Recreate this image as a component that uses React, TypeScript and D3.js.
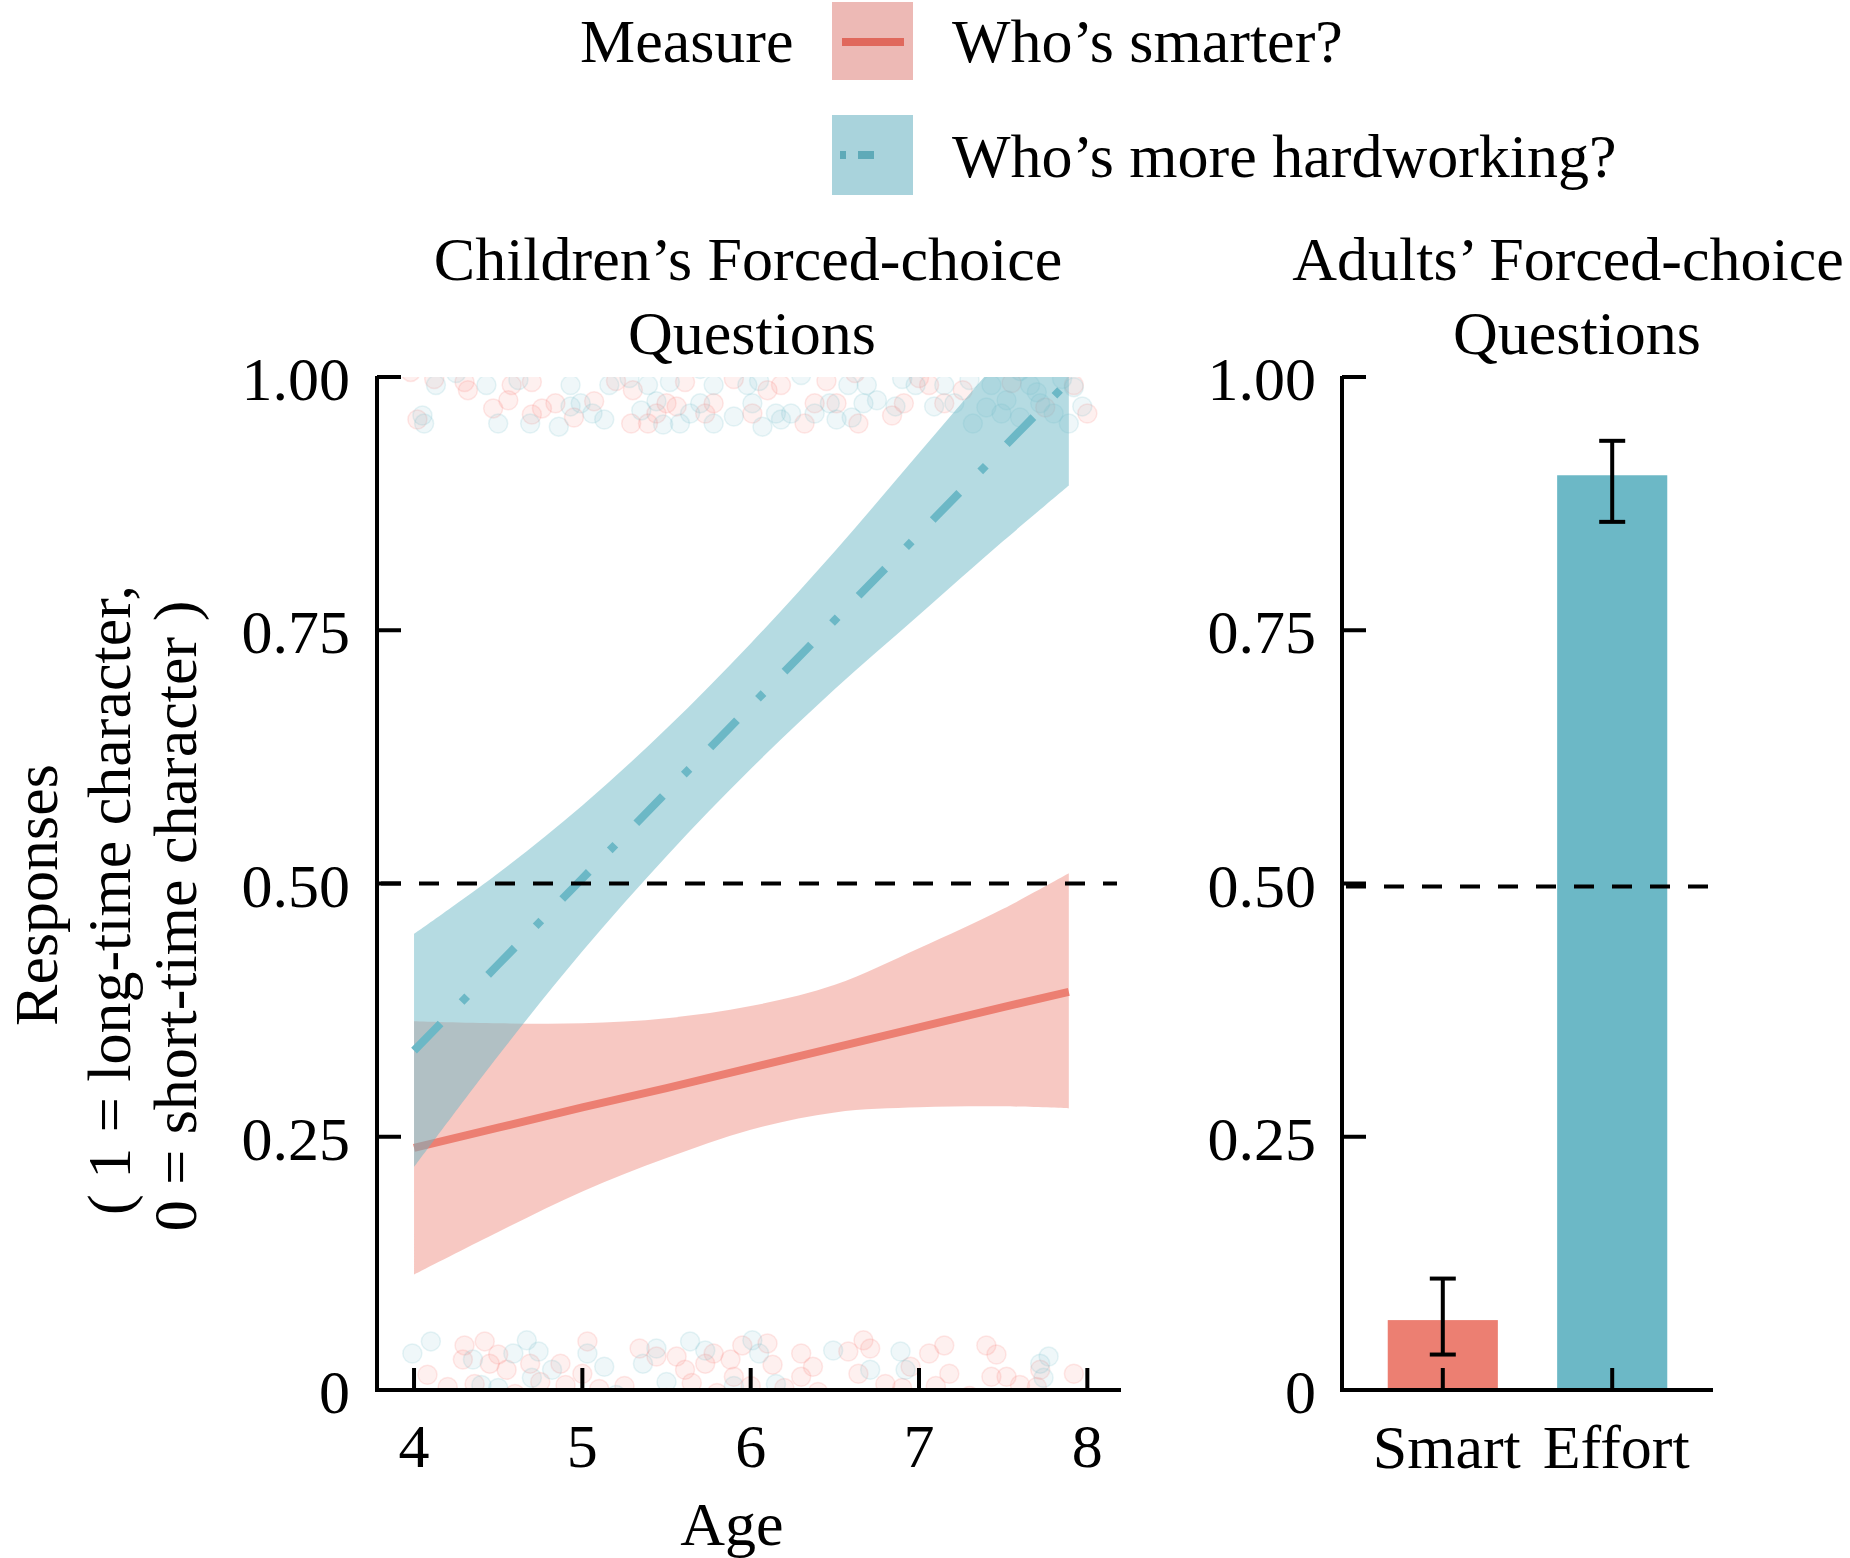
import * as d3 from 'd3'

// ---- data ----
const fitAges = [4, 4.5, 5, 5.5, 6, 6.5, 7, 7.5, 7.89]
const smartFit = [0.239, 0.259, 0.279, 0.298, 0.318, 0.338, 0.358, 0.378, 0.393]
const smartLow = [0.114, 0.156, 0.196, 0.229, 0.257, 0.274, 0.279, 0.28, 0.278]
const smartHigh = [0.364, 0.362, 0.362, 0.367, 0.379, 0.4, 0.436, 0.475, 0.51]
const effortFit = [0.335, 0.42, 0.505, 0.59, 0.675, 0.76, 0.845, 0.93, 0.996]
const effortLow = [0.22, 0.33, 0.433, 0.527, 0.613, 0.692, 0.765, 0.838, 0.893]
const effortHigh = [0.45, 0.51, 0.577, 0.653, 0.737, 0.828, 0.925, 1.022, 1.099]

// jittered raw responses [age, response]
const smartTop: [number, number][] = [
  [4.02, 0.958], [4.32, 0.987], [4.47, 0.969], [4.56, 0.977], [4.7, 0.963], [4.76, 0.969],
  [4.84, 0.974], [5.07, 0.976], [5.29, 0.954], [5.3, 0.987], [5.39, 0.954], [5.44, 0.964],
  [5.5, 0.974], [5.56, 0.971], [5.73, 0.964], [5.78, 0.974], [6.01, 0.964], [6.1, 0.987],
  [6.18, 0.992], [6.32, 0.954], [6.38, 0.974], [6.51, 0.974], [6.64, 0.954], [6.84, 0.962],
  [6.91, 0.974], [7.06, 0.992], [7.15, 0.974], [7.26, 0.987], [7.92, 0.992], [8.0, 0.964],
  [4.3, 0.995], [5.61, 0.995], [4.7, 0.995], [3.98, 1.005], [5.05, 1.01], [6.62, 1.004],
  [4.12, 0.998], [4.58, 0.992], [5.2, 0.996], [5.9, 0.998], [6.45, 0.996], [7.0, 0.999],
  [7.55, 0.994], [7.75, 0.97], [4.95, 0.96]
]
const effortTop: [number, number][] = [
  [4.05, 0.962], [4.06, 0.954], [4.13, 0.992], [4.43, 0.992], [4.5, 0.954], [4.69, 0.954],
  [4.86, 0.951], [4.93, 0.971], [4.99, 0.974], [5.06, 0.964], [5.13, 0.958], [5.16, 0.992],
  [5.39, 0.992], [5.44, 0.976], [5.48, 0.953], [5.58, 0.954], [5.64, 0.964], [5.7, 0.974],
  [5.78, 0.954], [5.9, 0.961], [5.98, 0.992], [6.01, 0.974], [6.07, 0.951], [6.15, 0.964],
  [6.18, 0.958], [6.24, 0.964], [6.38, 0.964], [6.47, 0.974], [6.51, 0.958], [6.58, 0.992],
  [6.67, 0.974], [6.69, 0.992], [6.75, 0.977], [6.86, 0.971], [6.98, 0.992], [7.09, 0.971],
  [7.21, 0.974], [7.32, 0.954], [7.43, 0.992], [7.52, 0.977], [7.66, 0.992], [7.72, 0.974],
  [7.8, 0.964], [7.89, 0.954], [7.97, 0.971], [7.49, 0.964], [7.15, 0.992], [4.93, 0.992],
  [5.78, 0.992], [4.25, 1.004], [5.7, 1.008], [6.3, 1.002], [7.6, 1.006], [7.85, 0.998],
  [4.62, 0.997], [5.28, 0.999], [5.52, 0.995], [6.05, 0.996], [6.9, 0.998], [7.3, 0.997],
  [7.7, 0.985], [7.92, 0.99], [7.6, 0.96], [7.4, 0.97], [6.6, 0.96], [5.35, 0.967]
]
const smartBottom: [number, number][] = [
  [4.08, 0.015], [4.3, 0.044], [4.42, 0.048], [4.29, 0.03], [4.45, 0.026], [4.55, 0.02],
  [4.69, 0.026], [4.87, 0.026], [5.03, 0.048], [5.0, 0.016], [5.34, 0.041], [5.44, 0.033],
  [5.56, 0.033], [5.61, 0.02], [5.73, 0.026], [5.78, 0.036], [5.95, 0.044], [6.1, 0.046],
  [6.13, 0.025], [6.3, 0.036], [6.37, 0.023], [6.58, 0.038], [6.64, 0.016], [6.67, 0.049],
  [6.71, 0.041], [6.95, 0.023], [7.06, 0.036], [7.15, 0.044], [7.18, 0.016], [7.4, 0.044],
  [7.46, 0.035], [7.52, 0.013], [7.72, 0.02], [7.92, 0.016], [7.43, 0.013], [6.3, 0.013],
  [5.9, 0.013], [4.2, 0.003], [4.6, -0.004], [5.1, 0.001], [5.5, -0.008], [6.0, 0.004],
  [6.4, -0.002], [6.9, 0.002], [7.3, -0.006], [7.7, 0.003], [4.9, 0.005], [5.8, -0.003],
  [4.36, 0.006], [4.75, 0.008], [5.25, 0.004], [5.65, 0.007], [6.2, 0.002], [6.8, 0.006],
  [7.1, 0.004], [7.6, 0.005], [4.5, 0.035], [5.88, 0.03]
]
const effortBottom: [number, number][] = [
  [3.99, 0.036], [4.1, 0.048], [4.35, 0.03], [4.59, 0.036], [4.67, 0.049], [4.74, 0.038],
  [4.82, 0.02], [5.03, 0.036], [5.13, 0.023], [5.36, 0.026], [5.44, 0.041], [5.64, 0.048],
  [5.73, 0.039], [6.01, 0.049], [6.05, 0.036], [6.49, 0.039], [6.71, 0.02], [6.89, 0.038],
  [6.92, 0.02], [7.72, 0.026], [7.77, 0.033], [4.5, 0.002], [5.2, -0.005], [5.9, 0.004],
  [4.7, 0.012], [4.4, 0.005], [5.5, 0.008], [6.15, 0.006], [7.74, 0.012]
]

const ageTicks = [4, 5, 6, 7, 8]
const yTicks = [0, 0.25, 0.5, 0.75, 1]
const yTickLabels = ['0', '0.25', '0.50', '0.75', '1.00']

const barCats = ['Smart', 'Effort']
const barMeans = [0.069, 0.903]
const barLow = [0.035, 0.857]
const barHigh = [0.11, 0.937]

const legendLabels = ['Who’s smarter?', 'Who’s more hardworking?']

// ---- styling ----
const RED = '#EC7F72'
const BLUE = '#6CB8C6'
const FONT = '"Liberation Serif", "Times New Roman", serif'
const FS = 62

export default function App() {
  const width = 1850
  const height = 1558

  const x = d3.scaleLinear().domain([3.78, 8.2]).range([377, 1121])
  const y = d3.scaleLinear().domain([0, 1]).range([1390, 377])
  const xb = d3.scaleBand<string>().domain(barCats).range([1342, 1713]).paddingInner(0.35).paddingOuter(0.27)

  const [lx0, lx1] = x.range()
  const [bx0, bx1] = xb.range()

  const band = (low: number[], high: number[]) =>
    d3.area<number>()
      .x((_, i) => x(fitAges[i]))
      .y0((_, i) => y(low[i]))
      .y1((_, i) => y(high[i]))
      .curve(d3.curveCatmullRom)(fitAges) || ''
  const fitLine = (vals: number[]) =>
    d3.line<number>()
      .x((_, i) => x(fitAges[i]))
      .y((_, i) => y(vals[i]))(fitAges) || ''

  const points = (pts: [number, number][], color: string, key: string) =>
    pts.map((p, i) => (
      <circle key={key + i} cx={x(p[0])} cy={y(p[1])} r={9.5}
        fill={color} fillOpacity={0.11} stroke={color} strokeOpacity={0.16} strokeWidth={1.5} />
    ))

  const text = { fontFamily: FONT, fontSize: FS, fill: '#000' }

  return (
    <div style={{ position: 'absolute', left: 0, top: 0 }}>
      <svg width={width} height={height} style={{ display: 'block', background: '#fff' }}>
        <defs>
          <clipPath id="leftPanel">
            <rect x={lx0} y={y(1)} width={lx1 - lx0} height={y(0) - y(1) - 2} />
          </clipPath>
        </defs>

        {/* legend */}
        <text {...text} x={580} y={62}>Measure</text>
        <rect x={832} y={2} width={81} height={78} fill="#EDB9B5" />
        <line x1={842} x2={904} y1={42} y2={42} stroke="#E0685C" strokeWidth={8} />
        <rect x={832} y={115} width={81} height={80} fill="#A9D3DC" />
        <line x1={840} x2={908} y1={155} y2={155} stroke="#5FAAB8" strokeWidth={8}
          strokeDasharray="6 12 16 40" />
        <text {...text} x={952} y={62}>{legendLabels[0]}</text>
        <text {...text} x={952} y={177}>{legendLabels[1]}</text>

        {/* titles */}
        <text {...text} x={748} y={280} textAnchor="middle">Children’s Forced-choice</text>
        <text {...text} x={752} y={354} textAnchor="middle">Questions</text>
        <text {...text} x={1568} y={280} textAnchor="middle">Adults’ Forced-choice</text>
        <text {...text} x={1577} y={354} textAnchor="middle">Questions</text>

        {/* y axis title */}
        <text {...text} transform="translate(57,895) rotate(-90)" textAnchor="middle">Responses</text>
        <text {...text} transform="translate(130,900) rotate(-90)" textAnchor="middle">( 1 = long-time character,</text>
        <text {...text} transform="translate(196,916) rotate(-90)" textAnchor="middle">0 = short-time character )</text>

        {/* ---- left panel ---- */}
        <g clipPath="url(#leftPanel)">
          {points(smartTop, '#F8766D', 'st')}
          {points(smartBottom, '#F8766D', 'sb')}
          {points(effortTop, BLUE, 'et')}
          {points(effortBottom, BLUE, 'eb')}
          <path d={band(smartLow, smartHigh)} fill={RED} fillOpacity={0.43} />
          <path d={fitLine(smartFit)} fill="none" stroke={RED} strokeWidth={8} />
          <path d={band(effortLow, effortHigh)} fill={BLUE} fillOpacity={0.5} />
          <path d={fitLine(effortFit)} fill="none" stroke={BLUE} strokeWidth={8}
            strokeDasharray="38 30 8 30" />
        </g>
        <line x1={lx0} x2={lx1 - 4} y1={y(0.5)} y2={y(0.5)} stroke="#000" strokeWidth={4}
          strokeDasharray="20 18" strokeDashoffset={-4} />

        {/* left axes */}
        <line x1={lx0} x2={lx0} y1={y(1) - 1} y2={y(0) + 2} stroke="#000" strokeWidth={4} />
        <line x1={lx0 - 2} x2={lx1} y1={y(0)} y2={y(0)} stroke="#000" strokeWidth={4} />
        {yTicks.map((t, i) => (
          <g key={'ly' + t}>
            <line x1={lx0} x2={lx0 + 24} y1={y(t)} y2={y(t)} stroke="#000" strokeWidth={4} />
            <text {...text} x={350} y={y(t) + 23} textAnchor="end">{yTickLabels[i]}</text>
          </g>
        ))}
        {ageTicks.map(t => (
          <g key={'lx' + t}>
            <line x1={x(t)} x2={x(t)} y1={y(0)} y2={y(0) - 22} stroke="#000" strokeWidth={4} />
            <text {...text} x={x(t)} y={1467} textAnchor="middle">{t}</text>
          </g>
        ))}
        <text {...text} x={732} y={1545} textAnchor="middle">Age</text>

        {/* ---- right panel ---- */}
        {barCats.map((c, i) => (
          <rect key={'bar' + c} x={xb(c)} y={y(barMeans[i])} width={xb.bandwidth()}
            height={y(0) - y(barMeans[i])} fill={i === 0 ? RED : BLUE} />
        ))}
        <line x1={bx0 + 4} x2={bx1} y1={y(0.5) + 3} y2={y(0.5) + 3} stroke="#000" strokeWidth={4}
          strokeDasharray="20 18" />
        {barCats.map((c, i) => {
          const cx = (xb(c) || 0) + xb.bandwidth() / 2
          return (
            <g key={'err' + c} stroke="#000" strokeWidth={4}>
              <line x1={cx} x2={cx} y1={y(barLow[i])} y2={y(barHigh[i])} />
              <line x1={cx - 13} x2={cx + 13} y1={y(barLow[i])} y2={y(barLow[i])} />
              <line x1={cx - 13} x2={cx + 13} y1={y(barHigh[i])} y2={y(barHigh[i])} />
            </g>
          )
        })}
        <line x1={bx0} x2={bx0} y1={y(1) - 1} y2={y(0) + 2} stroke="#000" strokeWidth={4} />
        <line x1={bx0 - 2} x2={bx1} y1={y(0)} y2={y(0)} stroke="#000" strokeWidth={4} />
        {yTicks.map((t, i) => (
          <g key={'ry' + t}>
            <line x1={bx0} x2={bx0 + 24} y1={y(t)} y2={y(t)} stroke="#000" strokeWidth={4} />
            <text {...text} x={1316} y={y(t) + 23} textAnchor="end">{yTickLabels[i]}</text>
          </g>
        ))}
        {barCats.map(c => {
          const cx = (xb(c) || 0) + xb.bandwidth() / 2
          return (
            <g key={'rx' + c}>
              <line x1={cx} x2={cx} y1={y(0)} y2={y(0) - 22} stroke="#000" strokeWidth={4} />
              <text {...text} x={cx + 4} y={1468} textAnchor="middle">{c}</text>
            </g>
          )
        })}
      </svg>
    </div>
  )
}
